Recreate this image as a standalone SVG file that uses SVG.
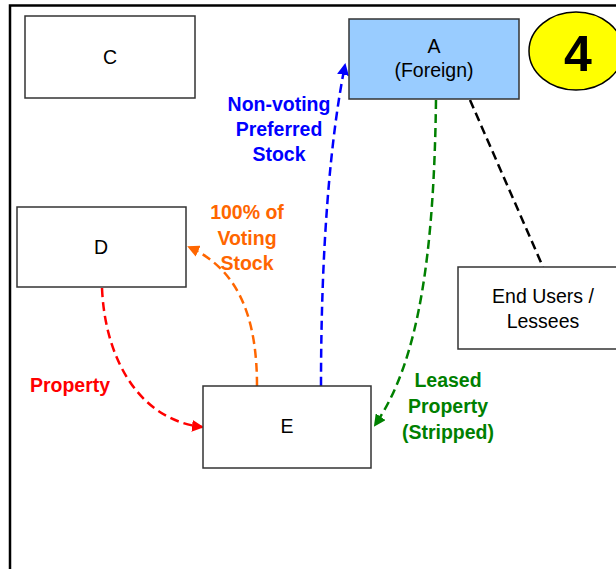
<svg xmlns="http://www.w3.org/2000/svg" width="616" height="569" viewBox="0 0 616 569">
<defs>
<style>
.box{fill:#fff;stroke:#333;stroke-width:1.5}
.t{font-family:"Liberation Sans",Arial,sans-serif;font-size:19.5px;fill:#000;text-anchor:middle}
.lb{font-family:"Liberation Sans",Arial,sans-serif;font-size:19.5px;font-weight:bold;text-anchor:middle}
.c{fill:none;stroke-width:2.5;stroke-dasharray:9,5}
</style>
<marker id="mb" markerWidth="12" markerHeight="12" refX="10" refY="6" orient="auto" markerUnits="userSpaceOnUse"><path d="M0,0 L12,6 L0,12 z" fill="#0000FF"/></marker>
<marker id="mg" markerWidth="12" markerHeight="12" refX="10" refY="6" orient="auto" markerUnits="userSpaceOnUse"><path d="M0,0 L12,6 L0,12 z" fill="#008000"/></marker>
<marker id="mo" markerWidth="12" markerHeight="12" refX="10" refY="6" orient="auto" markerUnits="userSpaceOnUse"><path d="M0,0 L12,6 L0,12 z" fill="#FF6600"/></marker>
<marker id="mr" markerWidth="12" markerHeight="12" refX="10" refY="6" orient="auto" markerUnits="userSpaceOnUse"><path d="M0,0 L12,6 L0,12 z" fill="#FF0000"/></marker>
</defs>
<rect width="616" height="569" fill="#fff"/>
<path d="M10,569 V5.5 H616" fill="none" stroke="#000" stroke-width="2.5"/>
<g id="connectors">
<path class="c" stroke="#0000FF" d="M321,386 C321,250 330,140 345,65" marker-end="url(#mb)"/>
<path class="c" stroke="#008000" d="M436,100 C434,250 420,360 375,425" marker-end="url(#mg)"/>
<path class="c" stroke="#000" d="M470,100 L543,267"/>
<path class="c" stroke="#FF6600" d="M257,386 C257,320 240,270 189,247" marker-end="url(#mo)"/>
<path class="c" stroke="#FF0000" d="M102,288 C105,360 140,420 202,427" marker-end="url(#mr)"/>
</g>
<g id="node-C"><rect class="box" x="25" y="16" width="170" height="82"/><text class="t" x="110" y="64">C</text></g>
<g id="node-A"><rect x="349" y="19" width="170" height="80" fill="#99CCFF" stroke="#333" stroke-width="1.5"/><text class="t" x="434" y="53">A</text><text class="t" x="434" y="77">(Foreign)</text></g>
<g id="badge-4"><ellipse cx="576" cy="51" rx="47" ry="39" fill="#FFFF00" stroke="#000" stroke-width="1.5"/><text x="578" y="71" font-family="'Liberation Sans',Arial,sans-serif" font-size="50" font-weight="bold" text-anchor="middle">4</text></g>
<g id="node-D"><rect class="box" x="17" y="207" width="169" height="80"/><text class="t" x="101" y="254">D</text></g>
<g id="node-E"><rect class="box" x="203" y="386" width="168" height="82"/><text class="t" x="287" y="433">E</text></g>
<g id="node-EndUsers"><rect class="box" x="458" y="267" width="170" height="82"/><text class="t" x="543" y="303">End Users /</text><text class="t" x="543" y="328">Lessees</text></g>
<g id="labels">
<text class="lb" fill="#0000FF" x="279" y="111">Non-voting</text>
<text class="lb" fill="#0000FF" x="279" y="136">Preferred</text>
<text class="lb" fill="#0000FF" x="279" y="161">Stock</text>
<text class="lb" fill="#FF6600" x="247" y="219">100% of</text>
<text class="lb" fill="#FF6600" x="247" y="245">Voting</text>
<text class="lb" fill="#FF6600" x="247" y="270">Stock</text>
<text class="lb" fill="#FF0000" x="70" y="392">Property</text>
<text class="lb" fill="#008000" x="448" y="387">Leased</text>
<text class="lb" fill="#008000" x="448" y="413">Property</text>
<text class="lb" fill="#008000" x="448" y="439">(Stripped)</text>
</g>
</svg>
